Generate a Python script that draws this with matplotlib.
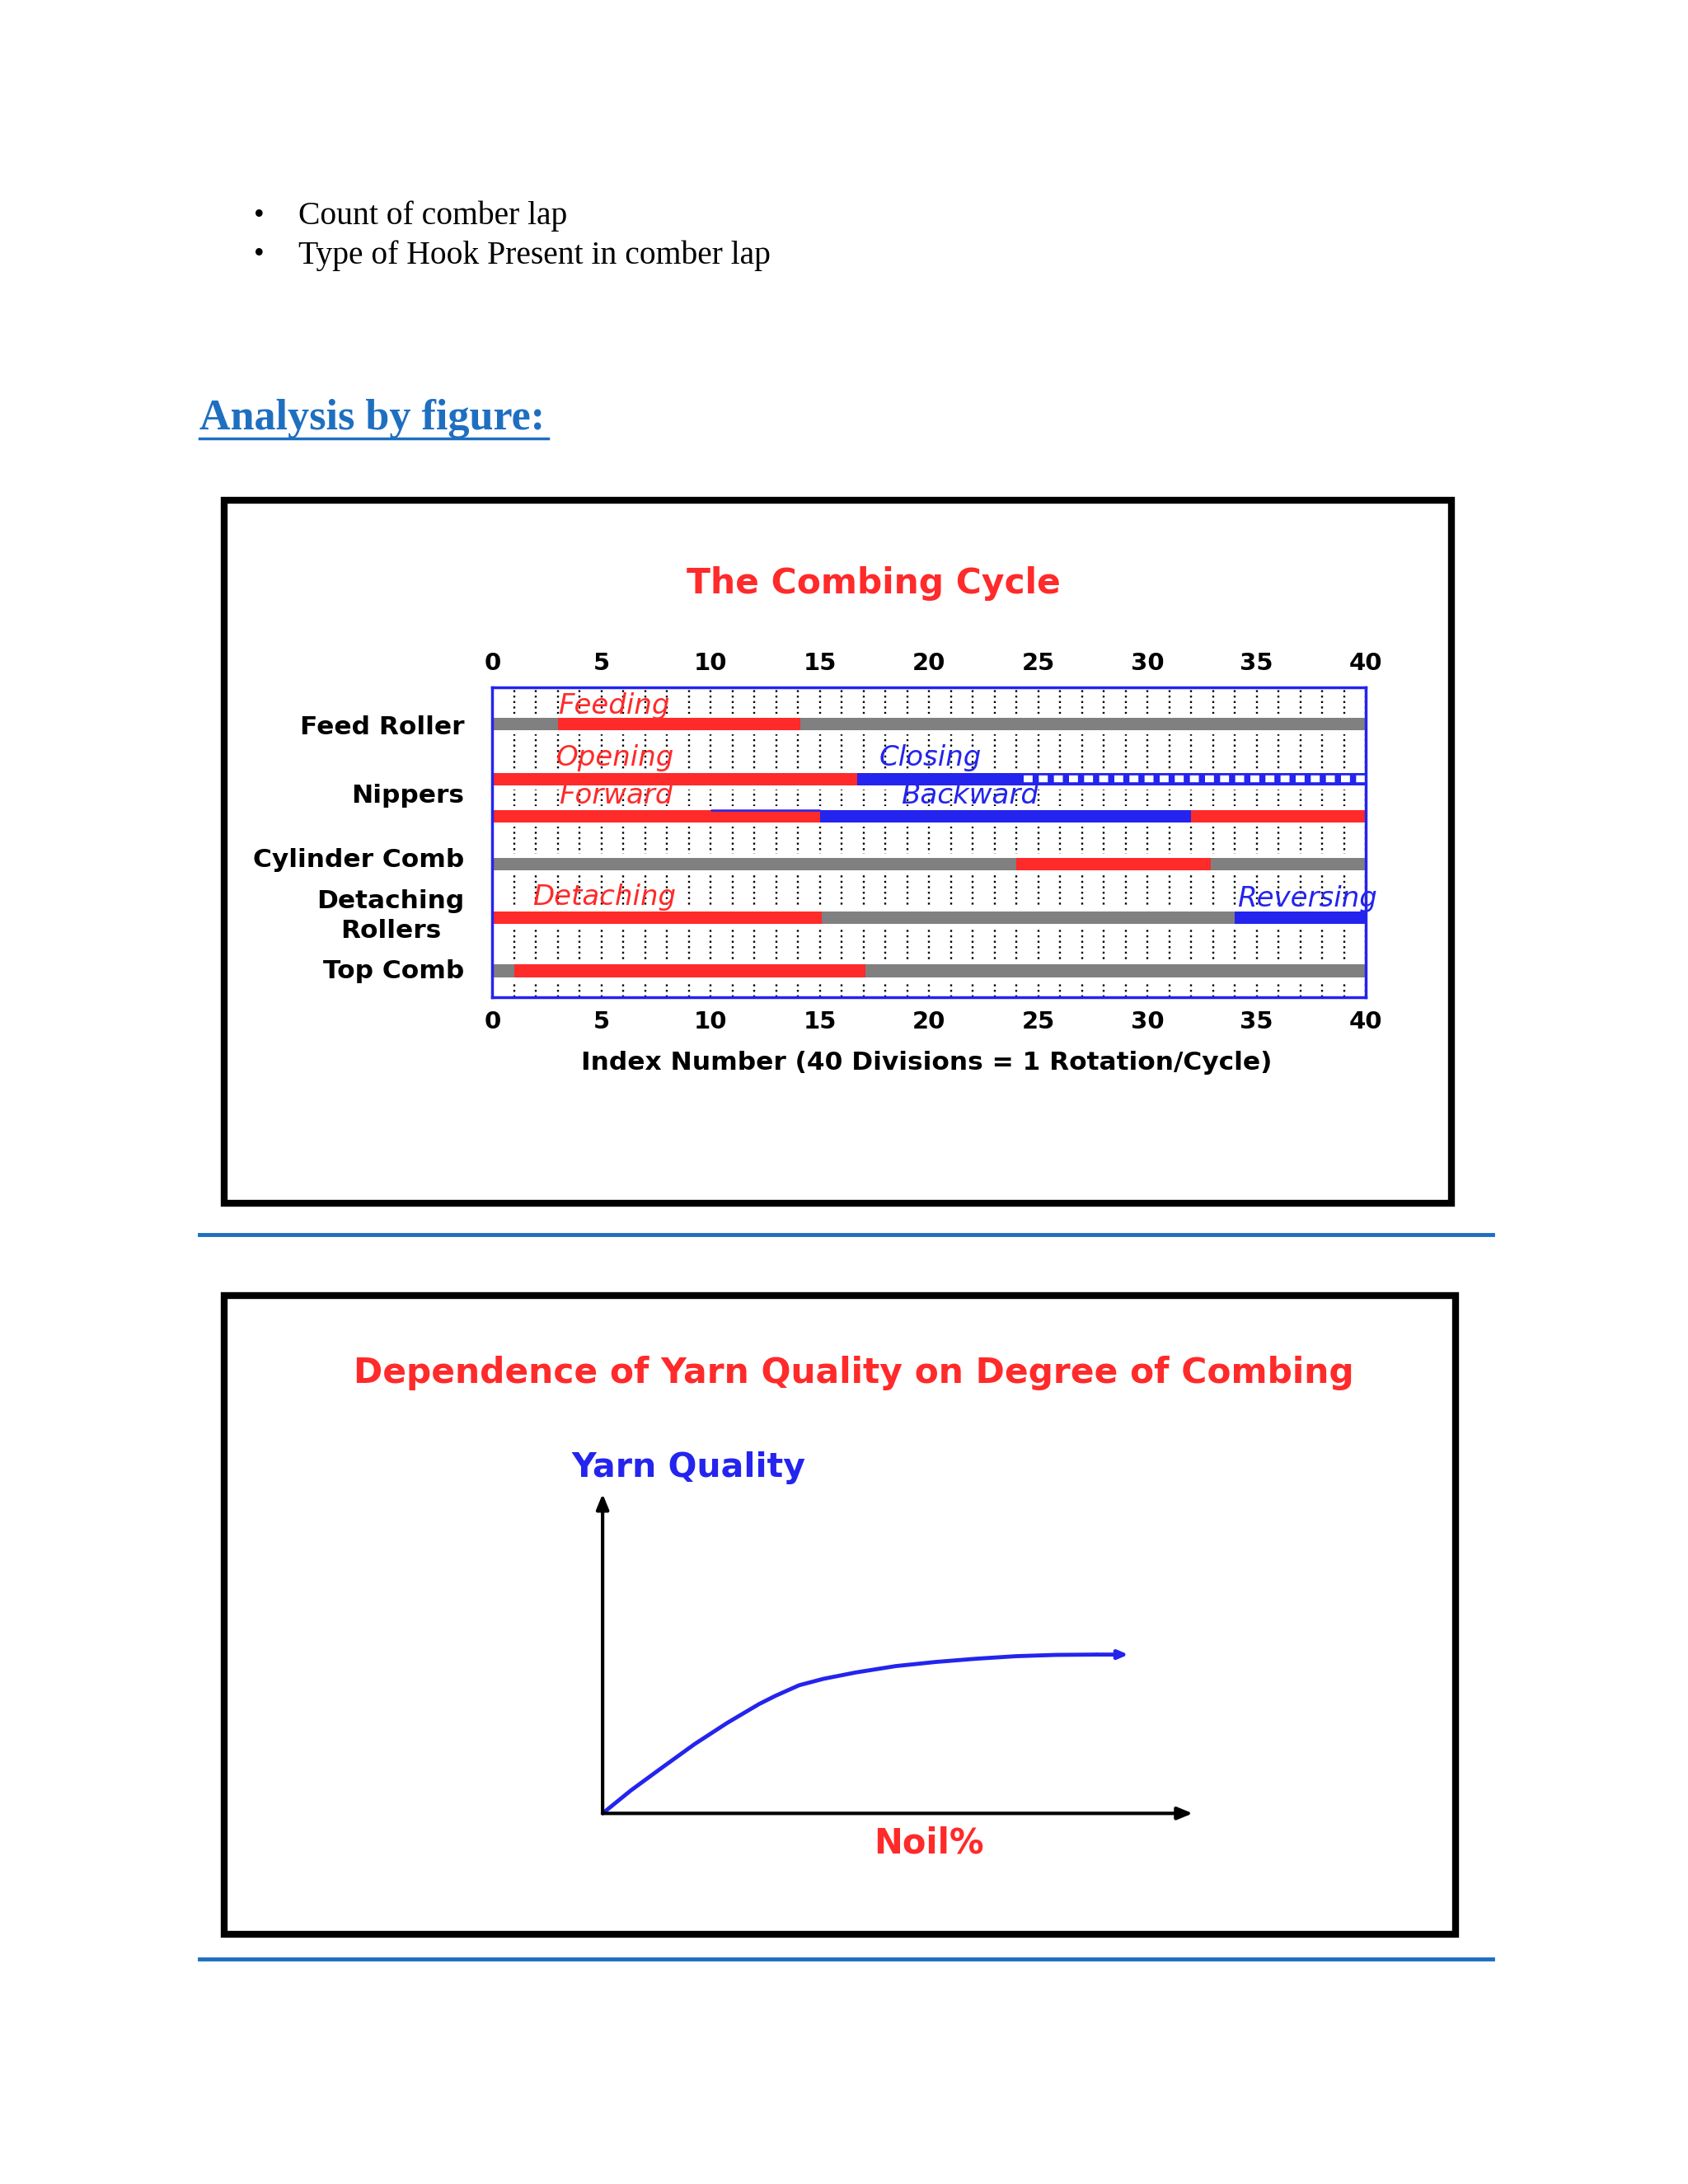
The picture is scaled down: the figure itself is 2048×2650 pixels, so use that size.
import matplotlib.pyplot as plt
import matplotlib.patches as mpatches
import matplotlib.lines as mlines
from matplotlib.ticker import MultipleLocator

# ---- combing cycle: index numbers (40 divisions = 1 cycle) ----
index_ticks = list(range(0, 41, 5))
machine_parts = ["Feed Roller", "Nippers", "Cylinder Comb", "Detaching\nRollers", "Top Comb"]

feed_roller_feeding = [(3, 14.1)]
nipper_opening = [(0, 16.7)]
nipper_closing = [(16.7, 24.2)]
nipper_closed = [(24.2, 40)]
nipper_forward = [(0, 15), (32, 40)]
nipper_backward = [(15, 32)]
nipper_backward_start = [(10, 15)]
cylinder_comb_active = [(24, 32.9)]
detaching_forward = [(0, 15.1)]
detaching_reversing = [(34, 40)]
top_comb_active = [(1, 17.1)]

phase_labels = ["Feeding", "Opening", "Closing", "Forward", "Backward", "Detaching", "Reversing"]
phase_label_start = [3, 2.9, 17.7, 3.05, 18.7, 1.85, 34.1]

# ---- yarn quality vs noil % (arbitrary units 0-10) ----
noil_pct = [0, 0.48, 1.02, 1.56, 2.11, 2.65, 2.93, 3.33, 3.74, 4.29, 4.97,
            5.65, 6.33, 7.01, 7.69, 8.37, 8.91]
yarn_quality = [0, 0.72, 1.45, 2.17, 2.83, 3.42, 3.68, 4.01, 4.21, 4.41, 4.61,
                4.74, 4.84, 4.92, 4.96, 4.97, 4.97]

RED = '#ff2a2a'
BLUE = '#2424ee'
GRAY = '#808080'
PAGE_BLUE = '#1f6fc0'

fig = plt.figure(figsize=(20.48, 26.5), dpi=100)
fig.patch.set_facecolor('white')

## page text
fig.text(0.1504, 0.901, '\u2022', fontsize=26, family='Liberation Serif', va='center')
fig.text(0.1769, 0.901, 'Count of comber lap', fontsize=28.5, family='Liberation Serif', va='center')
fig.text(0.1504, 0.8831, '\u2022', fontsize=26, family='Liberation Serif', va='center')
fig.text(0.1769, 0.8831, 'Type of Hook Present in comber lap', fontsize=28.5,
         family='Liberation Serif', va='center')

fig.text(0.1182, 0.8084, 'Analysis by figure:', fontsize=37.5, family='Liberation Serif',
         fontweight='bold', color=PAGE_BLUE, va='center')
fig.add_artist(mlines.Line2D([0.1182, 0.3248], [0.7994, 0.7994], transform=fig.transFigure,
                             color=PAGE_BLUE, lw=2.5))

## frames and separators
for x0, y0, x1, y1 in [(0.1326, 0.4491, 0.8599, 0.7710), (0.1326, 0.1144, 0.8624, 0.4069)]:
    fig.add_artist(mpatches.Rectangle((x0, y0), x1 - x0, y1 - y0, transform=fig.transFigure,
                                      fill=False, ec='black', lw=6))
for y in [0.4347, 0.1032]:
    fig.add_artist(mlines.Line2D([0.1182, 0.8843], [y, y], transform=fig.transFigure,
                                 color=PAGE_BLUE, lw=3.5))

## the combing cycle
fig.text(0.5174, 0.733, 'The Combing Cycle', fontsize=30.5, fontweight='bold', color=RED,
         ha='center', va='center')

ax = fig.add_axes([0.2917, 0.5433, 0.5174, 0.1418])
ax.set_xlim(0, 40)
ax.set_ylim(222, 0)

ax.xaxis.set_minor_locator(MultipleLocator(1))
ax.grid(which='both', axis='x', color='black', lw=1.7, linestyle=(0, (1, 1.8)))
ax.set_axisbelow(True)

row_y = {'feed': 26, 'open': 65.5, 'fwd': 92, 'cyl': 126.5, 'det': 165, 'top': 203}
bar_h = 9


def bars(segments, y, color, h=bar_h, z=3):
    ax.broken_barh([(s, e - s) for s, e in segments], (y - h / 2, h),
                   facecolors=color, zorder=z)


# white halo behind each track
for y in row_y.values():
    bars([(0, 40)], y, 'white', h=15, z=2)

for key in ['feed', 'cyl', 'det', 'top']:
    bars([(0, 40)], row_y[key], GRAY)

bars(feed_roller_feeding, row_y['feed'], RED, z=4)

bars(nipper_opening, row_y['open'], RED)
bars(nipper_closing, row_y['open'], BLUE)
bars(nipper_closed, row_y['open'], BLUE)
for s, e in nipper_closed:
    ax.hlines(row_y['open'], s + 0.15, e, colors='white', lw=6,
              linestyles=(0, (1.3, 0.9)), zorder=5)

bars(nipper_forward, row_y['fwd'], RED)
bars(nipper_backward, row_y['fwd'], BLUE)
for s, e in nipper_backward_start:
    ax.hlines(row_y['fwd'] - bar_h / 2, s, e, colors=BLUE, lw=1.8, zorder=5)

bars(cylinder_comb_active, row_y['cyl'], RED, z=4)
bars(detaching_forward, row_y['det'], RED, z=4)
bars(detaching_reversing, row_y['det'], BLUE, z=4)
bars(top_comb_active, row_y['top'], RED, z=4)

label_y = [13, 50.5, 50, 77.5, 77.5, 150, 151]
label_col = [RED, RED, BLUE, RED, BLUE, RED, BLUE]
for name, x, y, c in zip(phase_labels, phase_label_start, label_y, label_col):
    ax.text(x, y, name, color=c, fontsize=24.5, fontstyle='italic', ha='left', va='center',
            zorder=6, clip_on=False)

part_y = [28.6, 77.3, 123.4, 163.6, 203]
for name, y in zip(machine_parts, part_y):
    ax.text(-0.032, y, name, transform=ax.get_yaxis_transform(), ha='right', va='center',
            multialignment='center', fontsize=22.5, fontweight='bold', linespacing=1.3)

ax.set_xticks(index_ticks)
ax.set_yticks([])
ax.tick_params(axis='x', which='both', length=0, labeltop=True, labelbottom=True)
ax.tick_params(axis='x', which='major', labelsize=21, pad=11)
for lbl in ax.get_xticklabels():
    lbl.set_fontweight('bold')
ax.set_xlabel('Index Number (40 Divisions = 1 Rotation/Cycle)', fontsize=22.5, fontweight='bold')
ax.xaxis.set_label_coords(0.497, -0.2117)
ax.xaxis.label.set_va('center')
for sp in ax.spines.values():
    sp.set_color(BLUE)
    sp.set_linewidth(2.5)
    sp.set_zorder(7)

## yarn quality vs degree of combing
fig.text(0.5058, 0.3715, 'Dependence of Yarn Quality on Degree of Combing', fontsize=30.5,
         fontweight='bold', color=RED, ha='center', va='center')
fig.text(0.3388, 0.328, 'Yarn Quality', fontsize=29.5, fontweight='bold', color=BLUE,
         ha='left', va='center')
fig.text(0.5504, 0.1562, 'Noil%', fontsize=30, fontweight='bold', color=RED,
         ha='center', va='center')

ax2 = fig.add_axes([0.357, 0.1697, 0.3496, 0.1463])
ax2.set_xlim(0, 10)
ax2.set_ylim(0, 10)
ax2.axis('off')

axis_arrow = dict(arrowstyle='-|>,head_length=1.1,head_width=0.45', lw=3, color='black',
                  shrinkA=0, shrinkB=0)
ax2.annotate('', xy=(10, 0), xytext=(0, 0), arrowprops=axis_arrow, annotation_clip=False)
ax2.annotate('', xy=(0, 10), xytext=(0, 0), arrowprops=axis_arrow, annotation_clip=False)

ax2.plot(noil_pct[:-1], yarn_quality[:-1], color=BLUE, lw=3.5, solid_capstyle='round',
         solid_joinstyle='round', clip_on=False)
ax2.annotate('', xy=(noil_pct[-1], yarn_quality[-1]), xytext=(noil_pct[-2], yarn_quality[-2]),
             arrowprops=dict(arrowstyle='-|>,head_length=0.7,head_width=0.3', lw=3.5,
                             color=BLUE, shrinkA=0, shrinkB=0),
             annotation_clip=False)

fig.savefig('out.png', dpi=100)
